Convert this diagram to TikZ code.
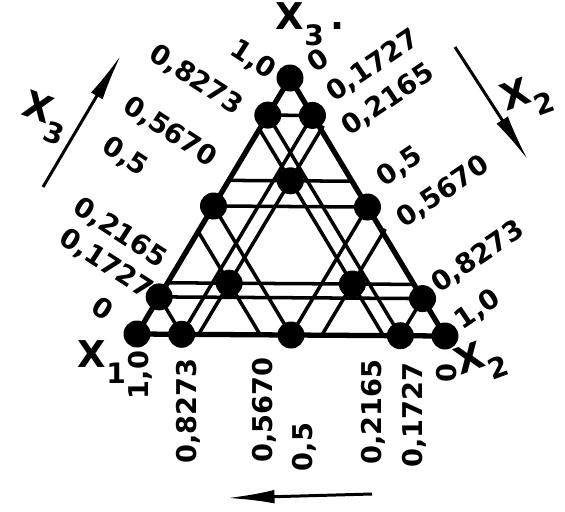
\documentclass[tikz,border=0pt]{standalone}
\usepackage{fontspec}
\setmainfont{DejaVu Sans}
\usetikzlibrary{arrows.meta}
\newcommand\xsub[1]{X\raisebox{-0.42em}{\fontsize{16}{16}\selectfont #1}}
\begin{document}
\begin{tikzpicture}[x=0.02cm,y=-0.02cm,
  grid/.style={line width=2pt},
  edge/.style={line width=3pt,line join=round},
  dot/.style={circle,fill=black,minimum size=0.54cm,inner sep=0},
  lab/.style={font=\bfseries\fontsize{15.5}{16}\selectfont,inner sep=0},
  labl/.style={lab,rotate=-33},
  labr/.style={lab,rotate=34},
  labb/.style={lab,rotate=90},
  xlab/.style={font=\bfseries\fontsize{21}{22}\selectfont,inner sep=0},
  axarrow/.style={line width=1.7pt,-{Latex[length=0.95cm,width=0.27cm]}}]
\useasboundingbox (0,0) rectangle (565,511);
\fill[white] (0,0) rectangle (565,511);
\coordinate (X1) at (137,334);
\coordinate (X2) at (445,336);
\coordinate (X3) at (290,78);
% grid lines
\foreach \v in {0.145,0.2,0.5,0.6,0.855}{
  \pgfmathsetmacro\w{1-\v}
  \draw[grid] (barycentric cs:X1=\w,X3=\v) -- (barycentric cs:X2=\w,X3=\v);
  \draw[grid,shorten >=-2.5pt] (barycentric cs:X1=\w,X2=\v) -- (barycentric cs:X2=\v,X3=\w);
  \draw[grid] (barycentric cs:X1=\v,X3=\w) -- (barycentric cs:X1=\v,X2=\w);
}
\draw[edge] (X1) -- (X2) -- (X3) -- cycle;
% design points
\foreach \a/\b/\c [count=\i] in {1/0/0, 0/1/0, 0/0/1,
  0.855/0.145/0, 0.145/0.855/0, 0/0.855/0.145, 0/0.145/0.855, 0.145/0/0.855, 0.855/0/0.145,
  0.5/0.5/0, 0/0.5/0.5, 0.5/0/0.5,
  0.6/0.2/0.2, 0.2/0.6/0.2, 0.2/0.2/0.6}
  \node[dot] (p\i) at (barycentric cs:X1=\a,X2=\b,X3=\c) {};
% left labels (x3)
\node[labl] (l1) at (253,60) {1,0};
\node[labl] (l2) at (196,80) {0,8273};
\node[labl] (l3) at (170,132) {0,5670};
\node[labl] (l4) at (125,157) {0,5};
\node[labl] (l5) at (120,233) {0,2165};
\node[labl] (l6) at (106,264) {0,1727};
\node[labl] (l7) at (103,308) {0};
% right labels (x2)
\node[labr] (r1) at (318,60) {0};
\node[labr] (r2) at (373,66) {0,1727};
\node[labr] (r3) at (388,100) {0,2165};
\node[labr] (r4) at (400,167) {0,5};
\node[labr] (r5) at (443,192) {0,5670};
\node[labr] (r6) at (478,257) {0,8273};
\node[labr] (r7) at (478,310) {1,0};
% bottom labels (x1)
\node[labb] (b1) at (140,375) {1,0};
\node[labb] (b2) at (188,411) {0,8273};
\node[labb] (b3) at (264,410) {0,5670};
\node[labb] (b4) at (304,447) {0,5};
\node[labb] (b5) at (373,412) {0,2165};
\node[labb] (b6) at (414,415) {0,1727};
\node[labb] (b7) at (447,373) {0};
% vertex labels
\node[xlab] (tX3) at (310,24) {\xsub{3}\,.};
\node[xlab] (tX1) at (102,362) {\xsub{1}};
\node[xlab,rotate=20] (tX2) at (481,362) {\xsub{2}};
% axis arrows
\coordinate (a1s) at (43,187); \coordinate (a1e) at (121,55);
\draw[axarrow] (a1s) -- (a1e);
\node[xlab,rotate=-20] (aX3) at (45,118) {\xsub{3}};
\coordinate (a2s) at (455,47); \coordinate (a2e) at (528,160);
\draw[axarrow] (a2s) -- (a2e);
\node[xlab,rotate=20] (aX2) at (527,98) {\xsub{2}};
\coordinate (a3s) at (372,494); \coordinate (a3e) at (227,498);
\draw[axarrow] (a3s) -- (a3e);
\end{tikzpicture}
\end{document}
